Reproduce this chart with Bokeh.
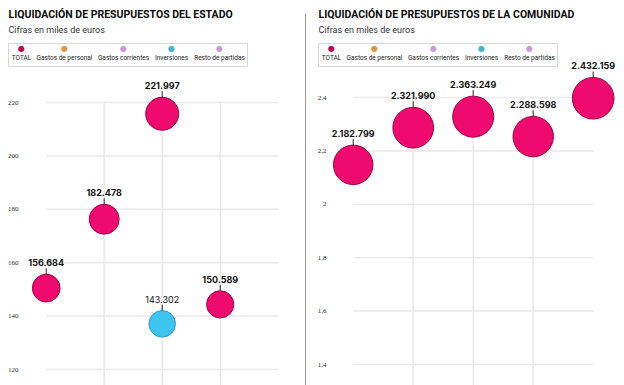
import math
from bokeh.plotting import figure
from bokeh.models import Range1d, FixedTicker, Label, LabelSet, BoxAnnotation, ColumnDataSource
from bokeh.layouts import row
from bokeh.embed import file_html
from bokeh.resources import INLINE
from bokeh.core.properties import value

# ---------------- data ----------------
slots = [0, 1, 2, 3, 4]

estado_total_x = [0, 1, 2, 3]
estado_total = [156684, 182478, 221997, 150589]          # miles de euros
estado_inv_x = [2]
estado_inv = [143302]
estado_ticks = [120, 140, 160, 180, 200, 220]
estado_tick_labels = ["120", "140", "160", "180", "200", "220"]

comunidad_total_x = [0, 1, 2, 3, 4]
comunidad_total = [2182799, 2321990, 2363249, 2288598, 2432159]
comunidad_ticks = [1.4, 1.6, 1.8, 2.0, 2.2, 2.4]
comunidad_tick_labels = ["1,4", "1,6", "1,8", "2", "2,2", "2,4"]

legend_names = ["TOTAL", "Gastos de personal", "Gastos corrientes", "Inversiones", "Resto de partidas"]
legend_colors = ["#c4004e", "#e0963c", "#c79ad6", "#3fb6c6", "#c79ad6"]

titles = ["LIQUIDACIÓN DE PRESUPUESTOS DEL ESTADO", "LIQUIDACIÓN DE PRESUPUESTOS DE LA COMUNIDAD"]
subtitle = "Cifras en miles de euros"

# ---------------- style ----------------
PINK, PINK_LINE = "#ef0a70", "#9e0042"
CYAN, CYAN_LINE = "#3ec4f0", "#2a9ccf"
GRID = "#e9e9e9"
H = 385


def fmt(v):
    return f"{v:,}".replace(",", ".")


def make_panel(width, page_left, x0_page, px_x, y_ref_val, y_ref_page, px_y,
               ticks, tick_labels, series, title, label_right_page, header_x, separator):
    xs = -(x0_page - page_left) / px_x
    xe = xs + width / px_x
    ye = y_ref_val + y_ref_page / px_y
    ys = ye - H / px_y
    p = figure(width=width, height=H, output_backend="svg", toolbar_location=None,
               x_range=Range1d(xs, xe), y_range=Range1d(ys, ye),
               x_axis_location=None, min_border=0, outline_line_color=None,
               background_fill_color="white", border_fill_color="white")
    p.grid.visible = False
    ax = p.yaxis[0]
    standoff = 4
    ax.fixed_location = xs + (label_right_page + standoff - page_left) / px_x
    ax.ticker = FixedTicker(ticks=ticks)
    ax.major_label_overrides = {t: l for t, l in zip(ticks, tick_labels)}
    ax.axis_line_color = None
    ax.major_tick_line_color = None
    ax.minor_tick_line_color = None
    ax.major_label_standoff = standoff
    ax.major_label_text_font = "Liberation Serif"
    ax.major_label_text_font_size = "7px"
    ax.major_label_text_color = "#2a2a2a"

    # grid lines
    n = len(ticks)
    p.segment(x0=[slots[0]] * n, x1=[slots[-1]] * n, y0=ticks, y1=ticks,
              line_color=GRID, line_width=1.5)
    inner = slots[1:-1]
    p.segment(x0=inner, x1=inner, y0=[ys] * len(inner), y1=[max(ticks)] * len(inner),
              line_color=GRID, line_width=1.5)

    # bubbles
    for (sx_, vals, scale, k, shift, fill, line, bold) in series:
        yv = [v / scale for v in vals]
        size = [k * math.sqrt(y) for y in yv]
        yc = [y - shift for y in yv]
        top = [c + s / 2 / px_y for c, s in zip(yc, size)]
        src = ColumnDataSource(dict(x=sx_, y=yc, size=size, top=top,
                                    tick=[t + 6 / px_y for t in top],
                                    lab=[t + 8 / px_y for t in top],
                                    text=[fmt(v) for v in vals]))
        p.scatter("x", "y", size="size", source=src, fill_color=fill, line_color=line, line_width=1)
        p.segment(x0="x", x1="x", y0="top", y1="tick", source=src, line_color="#222", line_width=1)
        p.add_layout(LabelSet(x="x", y="lab", text="text", source=src, text_align="center",
                              text_baseline="alphabetic", text_font=value("Inter"),
                              text_font_size="9px", text_font_style="bold" if bold else "normal",
                              text_color="#111"))

    # header (screen units, relative to frame = whole figure)
    def sx(px):
        return px - page_left

    def sy(py):
        return H - py

    hx = header_x
    p.add_layout(Label(x=sx(hx), y=sy(20), x_units="screen", y_units="screen", text=title,
                       text_font="Roboto", text_font_style="bold", text_font_size="10.5px",
                       text_color="#0a0a0a"))
    p.add_layout(Label(x=sx(hx), y=sy(34), x_units="screen", y_units="screen", text=subtitle,
                       text_font="Roboto", text_font_size="9px", text_color="#333"))
    p.add_layout(BoxAnnotation(left=sx(hx), right=sx(hx + 239), bottom=sy(66), top=sy(43),
                               left_units="screen", right_units="screen",
                               top_units="screen", bottom_units="screen",
                               fill_color=None, line_color="#777", line_width=1))
    offs = [13, 56, 115, 163, 211]
    for o, name, col in zip(offs, legend_names, legend_colors):
        p.add_layout(Label(x=sx(hx + o), y=sy(52.5), x_units="screen", y_units="screen", text="●",
                           text_align="center", text_font="DejaVu Sans", text_font_size="8px",
                           text_color=col))
        p.add_layout(Label(x=sx(hx + o), y=sy(61), x_units="screen", y_units="screen", text=name,
                           text_align="center", text_font="Roboto", text_font_size="6.5px",
                           text_color="#222"))
    if separator:
        p.add_layout(BoxAnnotation(left=sx(304.5), right=sx(306), bottom=sy(H), top=sy(13),
                                   left_units="screen", right_units="screen",
                                   top_units="screen", bottom_units="screen",
                                   fill_color="#9a9a9a", fill_alpha=1, line_color=None))
    return p


left = make_panel(306, 0, 45.7, 58, 220, 102, 2.67, estado_ticks, estado_tick_labels,
                  [(estado_total_x, estado_total, 1000, 2.215, 6.2, PINK, PINK_LINE, True),
                   (estado_inv_x, estado_inv, 1000, 2.215, 6.2, CYAN, CYAN_LINE, False)],
                  titles[0], 24, 8, True)
right = make_panel(318, 306, 352.7, 60, 2.4, 97, 267, comunidad_ticks, comunidad_tick_labels,
                   [(comunidad_total_x, comunidad_total, 1e6, 26.7, 0.035, PINK, PINK_LINE, True)],
                   titles[1], 332, 318, False)

layout = row(left, right, spacing=0)
open("out.html", "w").write(file_html(layout, INLINE))
